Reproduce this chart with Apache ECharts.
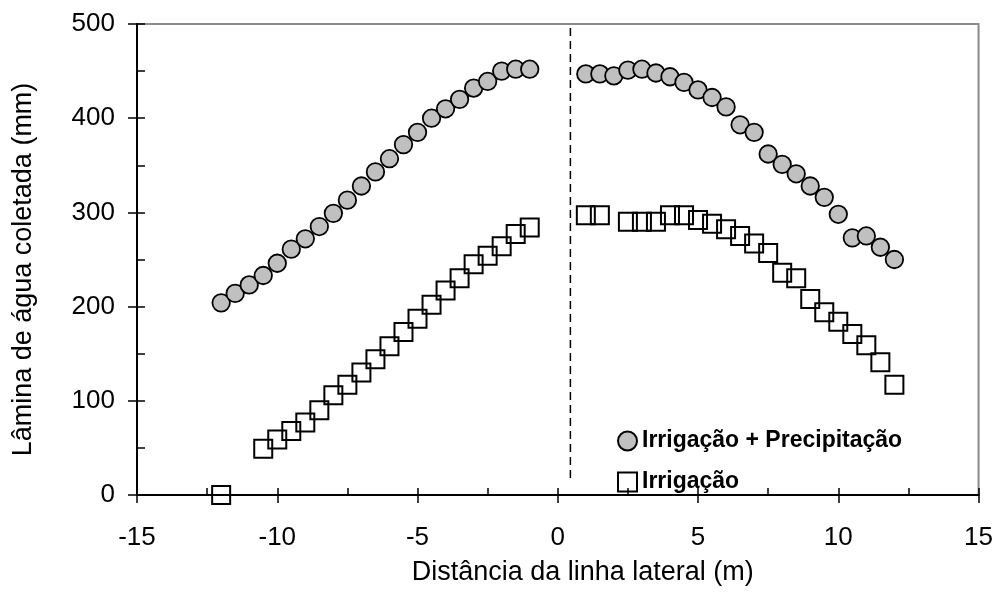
<!DOCTYPE html>
<html>
<head>
<meta charset="utf-8">
<style>
  html, body { margin: 0; padding: 0; background: #ffffff; }
  #chart { width: 996px; height: 594px; }
</style>
<script src="https://cdn.jsdelivr.net/npm/echarts@6/dist/echarts.min.js"></script>
</head>
<body>
<div id="chart"></div>
<script>
// Distances from the lateral line (m)
const distCombined = [
  -12, -11.5, -11, -10.5, -10, -9.5, -9, -8.5, -8, -7.5, -7, -6.5, -6, -5.5, -5, -4.5,
  -4, -3.5, -3, -2.5, -2, -1.5, -1,
  1, 1.5, 2, 2.5, 3, 3.5, 4, 4.5, 5, 5.5, 6, 6.5, 7, 7.5, 8, 8.5, 9, 9.5, 10, 10.5,
  11, 11.5, 12
];
// Collected depth, irrigation + rainfall (mm)
const depthCombined = [
  204, 214, 223, 233, 246, 261, 272, 285, 299, 313, 328, 343, 357, 372, 385, 400,
  410, 420, 432, 439, 450, 452, 452,
  447, 447, 445, 451, 452, 448, 444, 438, 430, 422, 412, 393, 385, 362, 351, 341,
  328, 316, 298, 273, 275, 263, 250
];

const distIrrigation = [
  -12, -10.5, -10, -9.5, -9, -8.5, -8, -7.5, -7, -6.5, -6, -5.5, -5, -4.5, -4, -3.5,
  -3, -2.5, -2, -1.5, -1,
  1, 1.5, 2.5, 3, 3.5, 4, 4.5, 5, 5.5, 6, 6.5, 7, 7.5, 8, 8.5, 9, 9.5, 10, 10.5,
  11, 11.5, 12
];
// Collected depth, irrigation only (mm)
const depthIrrigation = [
  0, 49, 59, 68, 77, 90, 106, 117, 130, 144, 158, 173, 187, 202, 217, 230,
  245, 254, 264, 277, 284,
  297, 297, 290, 290, 290, 297, 297, 292, 288, 282, 275, 267, 257, 236, 230, 208,
  194, 184, 171, 159, 141, 117
];

// Position of the lateral line (dashed divider) and its vertical extent
const dividerX = [0.45, 0.45];
const dividerY = [18, 499];

const seriesNames = ['Irrigação + Precipitação', 'Irrigação'];
const xTitle = 'Distância da linha lateral (m)';
const yTitle = 'Lâmina de água coletada (mm)';

const pairs = (xs, ys) => xs.map((x, i) => [x, ys[i]]);

const FONT = 'Liberation Sans, Arial, Helvetica, sans-serif';

const chart = echarts.init(document.getElementById('chart'), null, { renderer: 'canvas' });

const baseX = {
  type: 'value', min: -15, max: 15, position: 'bottom',
  splitLine: { show: false }
};
const baseY = {
  type: 'value', min: 0, max: 500, position: 'left',
  splitLine: { show: false }
};

chart.setOption({
  animation: false,
  backgroundColor: '#ffffff',
  grid: {
    left: 137, right: 17, top: 24, bottom: 99,
    show: true, borderColor: '#8a8a8a', borderWidth: 2, backgroundColor: 'transparent'
  },
  legend: {
    data: seriesNames,
    orient: 'vertical',
    left: 617, top: 429,
    padding: 0,
    itemWidth: 19, itemHeight: 19,
    itemGap: 17,
    textStyle: { fontFamily: FONT, fontSize: 23, fontWeight: 'bold', color: '#000', lineHeight: 24 },
    selectedMode: false
  },
  xAxis: [
    Object.assign({}, baseX, {
      interval: 5,
      axisLine: { show: true, onZero: false, lineStyle: { color: '#000', width: 2 } },
      axisTick: { show: true, inside: false, length: 8, lineStyle: { color: '#000', width: 1.5 } },
      axisLabel: { margin: 30, fontFamily: FONT, fontSize: 26, color: '#000' },
      name: xTitle, nameLocation: 'middle', nameGap: 64,
      nameTextStyle: { fontFamily: FONT, fontSize: 27, color: '#000', padding: [0, 0, 0, 50] }
    }),
    Object.assign({}, baseX, {
      interval: 2.5,
      axisLine: { show: false, onZero: false },
      axisTick: { show: true, inside: true, length: 7, lineStyle: { color: '#000', width: 1.5 } },
      axisLabel: { show: false }
    })
  ],
  yAxis: [
    Object.assign({}, baseY, {
      interval: 100,
      axisLine: { show: true, onZero: false, lineStyle: { color: '#000', width: 2 } },
      axisTick: { show: true, inside: false, length: 9, lineStyle: { color: '#000', width: 1.5 } },
      axisLabel: { margin: 22, fontFamily: FONT, fontSize: 26, color: '#000' },
      name: yTitle, nameLocation: 'middle', nameGap: 100,
      nameTextStyle: { fontFamily: FONT, fontSize: 27, color: '#000', padding: [0, 20, 0, 0] }
    }),
    Object.assign({}, baseY, {
      interval: 50,
      axisLine: { show: false, onZero: false },
      axisTick: { show: true, inside: true, length: 8, lineStyle: { color: '#000', width: 1.5 } },
      axisLabel: { show: false }
    })
  ],
  series: [
    {
      name: seriesNames[0],
      type: 'scatter',
      symbol: 'circle',
      symbolSize: 17.5,
      clip: false,
      itemStyle: { color: '#c0c0c0', borderColor: '#000', borderWidth: 1.8, opacity: 1 },
      data: pairs(distCombined, depthCombined),
      z: 3
    },
    {
      name: seriesNames[1],
      type: 'scatter',
      symbol: 'rect',
      symbolSize: 18,
      clip: false,
      itemStyle: { color: 'rgba(255,255,255,0)', borderColor: '#000', borderWidth: 2, opacity: 1 },
      data: pairs(distIrrigation, depthIrrigation),
      z: 3
    },
    {
      name: 'divider',
      type: 'line',
      symbol: 'none',
      silent: true,
      lineStyle: { color: '#000', width: 1.5, type: [8, 5] },
      data: pairs(dividerX, dividerY),
      z: 2
    }
  ]
});
</script>
</body>
</html>
